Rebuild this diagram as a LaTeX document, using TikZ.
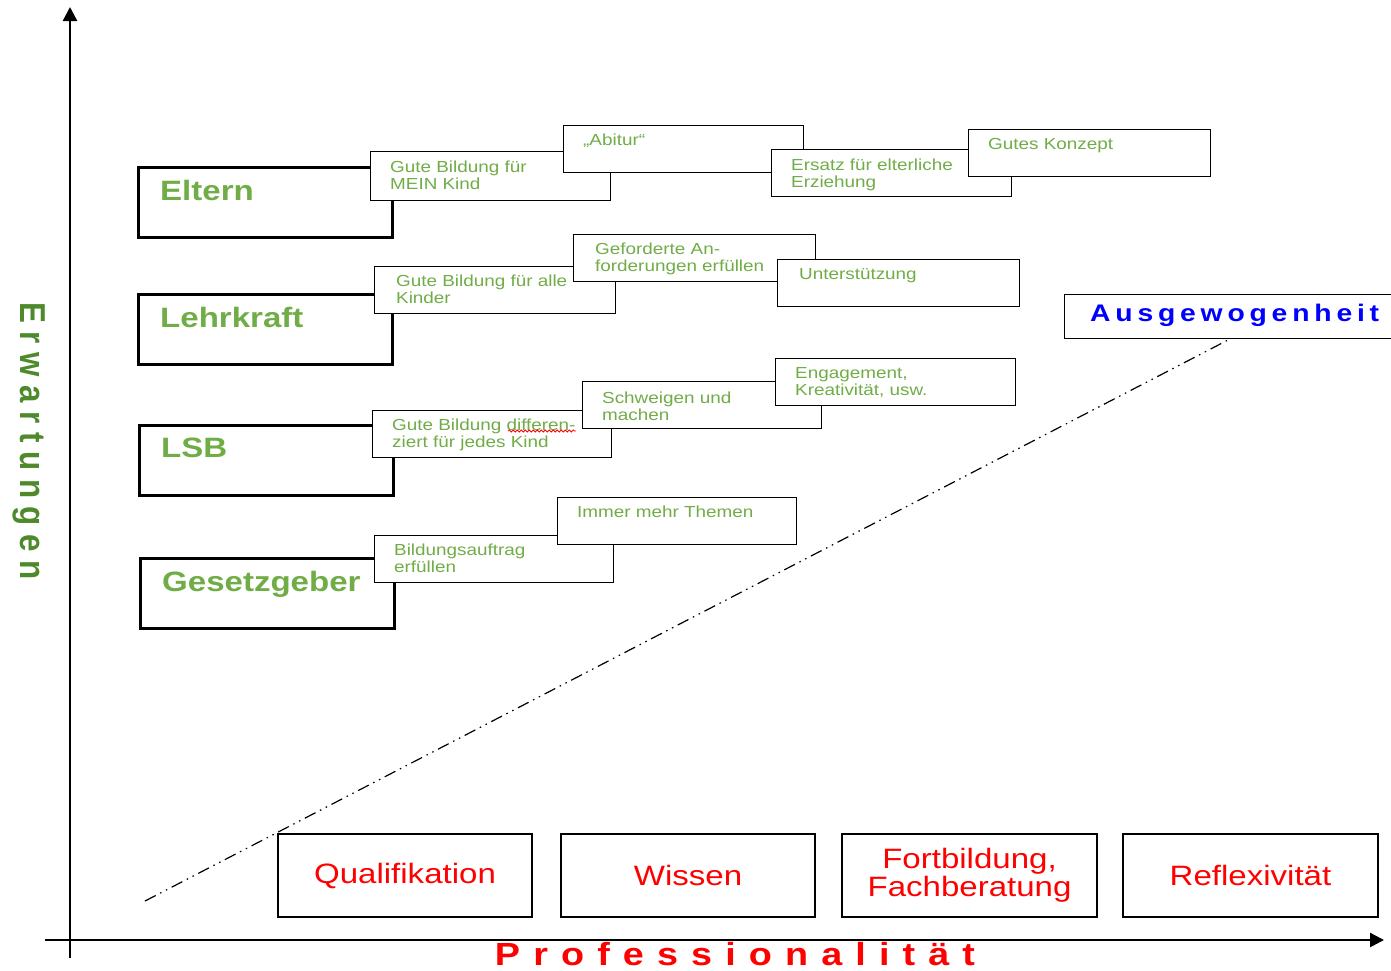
\documentclass[tikz,border=0pt]{standalone}
\usepackage{fontspec}
\setmainfont{Liberation Sans}[FakeStretch=1.18]
\newfontfamily\axisfont{Liberation Sans}[FakeStretch=0.87]
\usetikzlibrary{arrows.meta,decorations.pathmorphing}
\definecolor{boxgreen}{HTML}{70AD47}
\definecolor{axisgreen}{HTML}{4E8A2C}

\begin{document}
\begin{tikzpicture}[x=1pt, y=-1pt,
    axis/.style={line width=2.4pt, -{Triangle[length=14pt, width=14pt]}},
    rolebox/.style={draw, line width=2.6pt, fill=white, minimum width=254pt, minimum height=70pt, anchor=north west, inner sep=0pt},
    rolelabel/.style={anchor=north west, inner sep=0pt, xshift=23pt, yshift=-14pt, text=boxgreen, font=\fontsize{28}{30}\selectfont\bfseries},
    wishbox/.style={draw, line width=1.3pt, fill=white, minimum width=240pt, minimum height=47pt, anchor=north west, inner sep=0pt},
    wishlabel/.style={anchor=north west, inner sep=0pt, xshift=20pt, yshift=-9pt, text=boxgreen, align=left, font=\fontsize{16}{17}\selectfont},
    skillbox/.style={draw, line width=2pt, fill=white, minimum width=254pt, minimum height=83pt, anchor=north west, align=center, text=red, font=\fontsize{28}{28}\selectfont},
    balance/.style={dash pattern=on 12pt off 5pt on 1.5pt off 5pt on 1.5pt off 5pt, line width=1.2pt}]
    \useasboundingbox (0,0) rectangle (1391,970);
    % Axes
    \coordinate (ybottom) at (70,958);
    \coordinate (ytop) at (70,7);
    \coordinate (xleft) at (45,940);
    \coordinate (xright) at (1384,940);
    \draw[axis] (ybottom) -- (ytop);
    \draw[axis] (xleft) -- (xright);
    \node[rotate=-90, text=axisgreen, font=\axisfont\fontsize{36}{36}\selectfont\bfseries\addfontfeature{LetterSpace=24}] (erw) at (29,441) {Erwartungen};
    \node[anchor=base, text=red, font=\fontsize{32}{32}\selectfont\bfseries\addfontfeature{LetterSpace=41}] (prof) at (735,965) {Professionalität};
    % Balance line
    \coordinate (balstart) at (145,901);
    \coordinate (balend) at (1228,340);
    \draw[balance] (balstart) -- (balend);
    % Roles
    \node[rolebox, label={[rolelabel]north west:Eltern}] (eltern) at (137,166) {};
    \node[rolebox, label={[rolelabel]north west:Lehrkraft}] (lehrkraft) at (137,293) {};
    \node[rolebox, label={[rolelabel]north west:LSB}] (lsb) at (138,424) {};
    \node[rolebox, label={[rolelabel]north west:Gesetzgeber}] (gesetz) at (139,557) {};
    % Expectations: Eltern
    \node[wishbox, minimum height=49pt, label={[wishlabel, yshift=-1pt]north west:{Gute Bildung für\\MEIN Kind}}] (elt1) at (370,151) {};
    \node[wishbox, label={[wishlabel]north west:{„Abitur“}}] (elt2) at (563,125) {};
    \node[wishbox, label={[wishlabel, yshift=-1pt]north west:{Ersatz für elterliche\\Erziehung}}] (elt3) at (771,149) {};
    \node[wishbox, minimum width=242pt, label={[wishlabel]north west:{Gutes Konzept}}] (elt4) at (968,129) {};
    % Expectations: Lehrkraft
    \node[wishbox, minimum width=241pt, label={[wishlabel, xshift=2pt]north west:{Gute Bildung für alle\\Kinder}}] (lk1) at (374,266) {};
    \node[wishbox, minimum width=242pt, label={[wishlabel, xshift=2pt]north west:{Geforderte An-\\forderungen erfüllen}}] (lk2) at (573,234) {};
    \node[wishbox, minimum width=242pt, label={[wishlabel, xshift=2pt]north west:{Unterstützung}}] (lk3) at (777,259) {};
    % Expectations: LSB
    \node[wishbox, minimum width=239pt, label={[wishlabel]north west:{Gute Bildung differen-\\ziert für jedes Kind}}] (lsb1) at (372,410) {};
    \draw[red, line width=0.8pt, decorate, decoration={snake, amplitude=1pt, segment length=4pt}] (508,431) -- (576,431);
    \node[wishbox, minimum width=239pt, label={[wishlabel, yshift=-2pt]north west:{Schweigen und\\machen}}] (lsb2) at (582,381) {};
    \node[wishbox, label={[wishlabel]north west:{Engagement,\\Kreativität, usw.}}] (lsb3) at (775,358) {};
    % Expectations: Gesetzgeber
    \node[wishbox, minimum width=239pt, label={[wishlabel]north west:{Bildungsauftrag\\erfüllen}}] (ges1) at (374,535) {};
    \node[wishbox, minimum width=239pt, label={[wishlabel]north west:{Immer mehr Themen}}] (ges2) at (557,497) {};
    % Balance box
    \node[draw, line width=1.3pt, fill=white, minimum width=340pt, minimum height=44pt, text depth=8pt, anchor=north west, text=blue, font=\fontsize{24}{24}\selectfont\bfseries\addfontfeature{LetterSpace=20}] (ausg) at (1064,294) {Ausgewogenheit};
    % Professionality
    \node[skillbox] (quali) at (277,833) {Qualifikation};
    \node[skillbox] (wissen) at (560,833) {Wissen};
    \node[skillbox, minimum width=255pt] (fortb) at (841,833) {Fortbildung,\\Fachberatung};
    \node[skillbox, minimum width=255pt] (reflex) at (1122,833) {Reflexivität};
\end{tikzpicture}
\end{document}
